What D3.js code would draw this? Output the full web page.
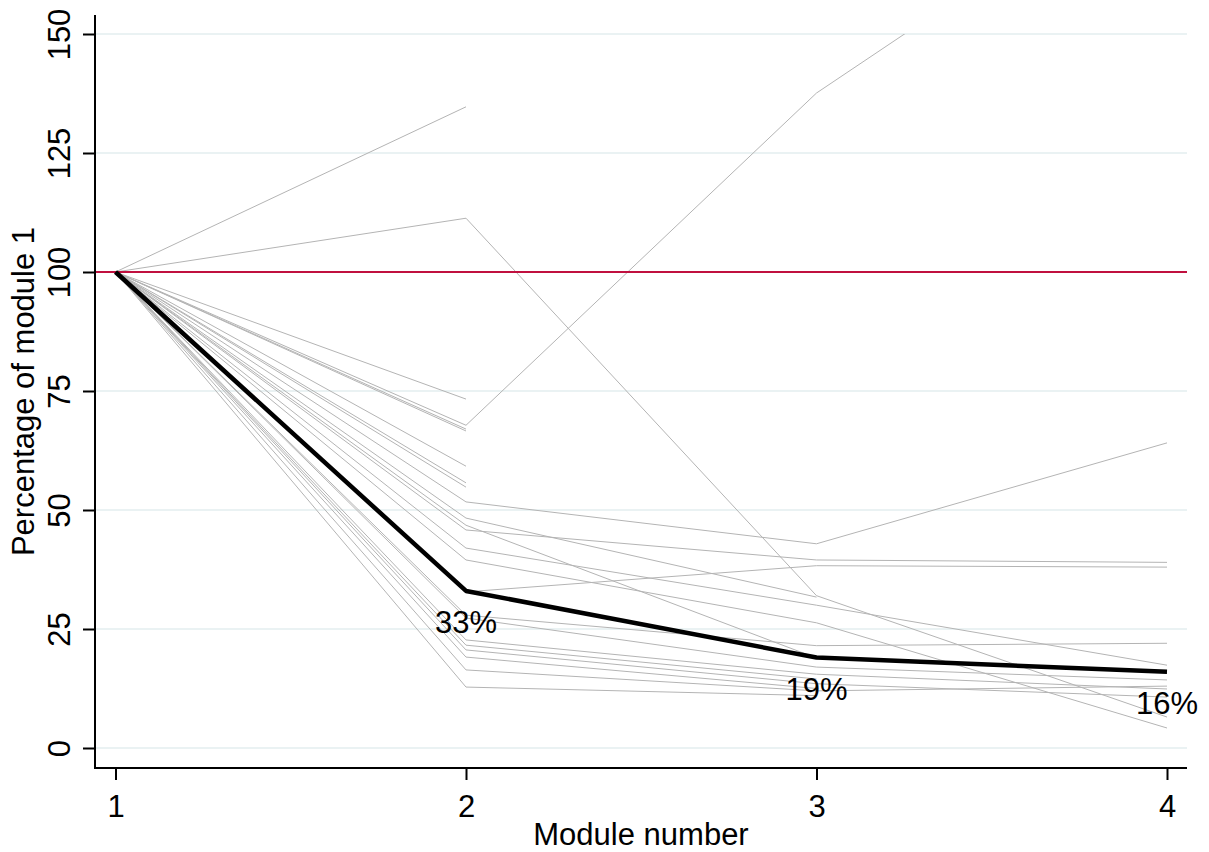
<!DOCTYPE html>
<html>
<head>
<meta charset="utf-8">
<script src="https://cdn.jsdelivr.net/npm/d3@7"></script>
<style>
  html, body { margin: 0; padding: 0; background: #fff; }
  svg { display: block; font-family: Arial, "Liberation Sans", sans-serif; }
</style>
</head>
<body>
<svg id="chart" width="1209" height="852"></svg>
<script>
// ---- data ----
const modules = [1, 2, 3, 4];
const yTicks = [0, 25, 50, 75, 100, 125, 150];
const xTicks = [1, 2, 3, 4];
const referenceValue = 100;
const meanValues = [100, 33, 19, 16];
const meanLabels = ["", "33%", "19%", "16%"];
const xTitle = "Module number";
const yTitle = "Percentage of module 1";

// individual trajectories (percentage of module 1), null = no module
const s01 = [100, 134.7, null, null];
const s02 = [100, 111.3, 32.0, 6.5];
const s03 = [100, 73.3, null, null];
const s04 = [100, 67.8, 137.6, 187];
const s05 = [100, 67.0, null, null];
const s06 = [100, 66.6, null, null];
const s07 = [100, 59.2, null, null];
const s08 = [100, 55.7, null, null];
const s09 = [100, 54.8, null, null];
const s10 = [100, 51.7, 42.9, 64.1];
const s11 = [100, 48.3, 31.7, null];
const s12 = [100, 46.8, 18.9, null];
const s13 = [100, 45.8, 39.5, 39.0];
const s14 = [100, 42.0, 30.0, 17.4];
const s15 = [100, 39.5, 26.3, 4.2];
const s16 = [100, 32.8, 38.3, 38.0];
const s17 = [100, 27.9, 21.5, 22.0];
const s18 = [100, 27.3, 17.0, 14.3];
const s19 = [100, 22.7, 15.5, 12.4];
const s20 = [100, 21.6, 14.5, null];
const s21 = [100, 20.6, 13.5, 10.7];
const s22 = [100, 19.1, 12.5, null];
const s23 = [100, 16.4, 12.0, 13.0];
const s24 = [100, 12.8, 11.0, null];
const individuals = [s01, s02, s03, s04, s05, s06, s07, s08, s09, s10, s11, s12,
                     s13, s14, s15, s16, s17, s18, s19, s20, s21, s22, s23, s24];

// ---- layout ----
const plotLeft = 95, plotRight = 1187, plotTop = 15, plotBottom = 768;
const x = d3.scaleLinear().domain([1, 4]).range([115.5, 1167]);
const y = d3.scaleLinear().domain([0, 150]).range([748, 34]);
const FS = 31;

const svg = d3.select("#chart");

svg.append("defs").append("clipPath").attr("id", "clip")
  .append("rect")
  .attr("x", plotLeft).attr("y", y(150))
  .attr("width", plotRight - plotLeft).attr("height", plotBottom - y(150));

// gridlines
svg.append("g").selectAll("line").data(yTicks).join("line")
  .attr("x1", plotLeft).attr("x2", plotRight)
  .attr("y1", d => y(d)).attr("y2", d => y(d))
  .attr("stroke", "#eaf2f3").attr("stroke-width", 2);

const plot = svg.append("g").attr("clip-path", "url(#clip)");

const line = d3.line()
  .defined(d => d != null)
  .x((d, i) => x(modules[i]))
  .y(d => y(d));

plot.append("g").selectAll("path").data(individuals).join("path")
  .attr("d", line)
  .attr("fill", "none")
  .attr("stroke", "#b4b4b4")
  .attr("stroke-width", 1);

// reference line
plot.append("line")
  .attr("x1", plotLeft).attr("x2", plotRight)
  .attr("y1", y(referenceValue)).attr("y2", y(referenceValue))
  .attr("stroke", "#c0103f").attr("stroke-width", 2);

// mean line
plot.append("path")
  .attr("d", line(meanValues))
  .attr("fill", "none")
  .attr("stroke", "#000")
  .attr("stroke-width", 4.5)
  .attr("stroke-linejoin", "round");

// mean labels
svg.append("g").selectAll("text").data(meanValues).join("text")
  .attr("x", (d, i) => x(modules[i]))
  .attr("y", d => y(d) + 42)
  .attr("text-anchor", "middle")
  .attr("font-size", FS)
  .attr("fill", "#000")
  .text((d, i) => meanLabels[i]);

// y axis
const yAxis = svg.append("g")
  .attr("transform", `translate(${plotLeft},0)`)
  .call(d3.axisLeft(y).tickValues(yTicks).tickSize(12).tickFormat(d3.format("d")));
yAxis.select(".domain").remove();
yAxis.selectAll(".tick line").attr("stroke", "#000").attr("stroke-width", 2);
yAxis.selectAll(".tick text")
  .attr("x", null).attr("dy", null)
  .attr("transform", "translate(-25,0) rotate(-90)")
  .attr("text-anchor", "middle")
  .attr("font-size", FS)
  .attr("font-family", "Arial, 'Liberation Sans', sans-serif")
  .attr("fill", "#000");
svg.append("line")
  .attr("x1", plotLeft).attr("x2", plotLeft)
  .attr("y1", plotTop).attr("y2", plotBottom + 1)
  .attr("stroke", "#000").attr("stroke-width", 2);

// x axis
const xAxis = svg.append("g")
  .attr("transform", `translate(0,${plotBottom})`)
  .call(d3.axisBottom(x).tickValues(xTicks).tickSize(12).tickFormat(d3.format("d")));
xAxis.select(".domain").remove();
xAxis.selectAll(".tick line").attr("stroke", "#000").attr("stroke-width", 2);
xAxis.selectAll(".tick text")
  .attr("y", 49).attr("dy", null)
  .attr("font-size", FS)
  .attr("font-family", "Arial, 'Liberation Sans', sans-serif")
  .attr("fill", "#000");
svg.append("line")
  .attr("x1", plotLeft - 1).attr("x2", plotRight)
  .attr("y1", plotBottom).attr("y2", plotBottom)
  .attr("stroke", "#000").attr("stroke-width", 2);

// titles
svg.append("text")
  .attr("x", (plotLeft + plotRight) / 2)
  .attr("y", 845)
  .attr("text-anchor", "middle")
  .attr("font-size", FS)
  .attr("fill", "#000")
  .text(xTitle);

svg.append("text")
  .attr("transform", `translate(34,${(plotTop + plotBottom) / 2}) rotate(-90)`)
  .attr("text-anchor", "middle")
  .attr("font-size", FS)
  .attr("fill", "#000")
  .text(yTitle);
</script>
</body>
</html>
